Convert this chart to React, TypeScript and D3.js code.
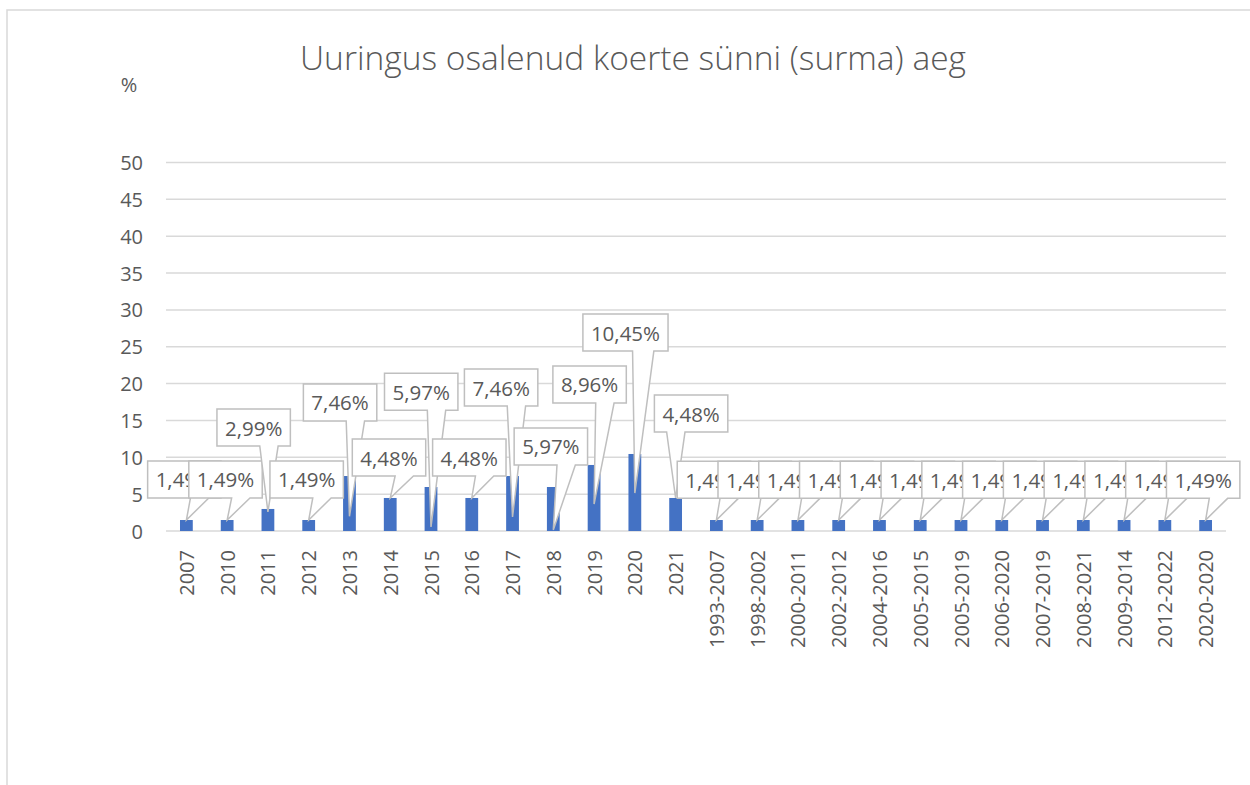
import React from "react";
import * as d3 from "d3";

// categories on the x axis
const categories = [
  "2007", "2010", "2011", "2012", "2013", "2014", "2015", "2016", "2017", "2018", "2019", "2020", "2021",
  "1993-2007", "1998-2002", "2000-2011", "2002-2012", "2004-2016", "2005-2015", "2005-2019",
  "2006-2020", "2007-2019", "2008-2021", "2009-2014", "2012-2022", "2020-2020",
];

// share of dogs, %
const values = [
  1.49, 1.49, 2.99, 1.49, 7.46, 4.48, 5.97, 4.48, 7.46, 5.97, 8.96, 10.45, 4.48,
  1.49, 1.49, 1.49, 1.49, 1.49, 1.49, 1.49, 1.49, 1.49, 1.49, 1.49, 1.49, 1.49,
];

const yTicks = [0, 5, 10, 15, 20, 25, 30, 35, 40, 45, 50];

// callout placement (value units for heights, category widths for the shift)
const calloutTop = [
  9.5, 9.5, 16.55, 9.5, 19.95, 12.48, 21.4, 12.48, 21.98, 13.98, 22.39, 29.44, 18.45,
  9.45, 9.45, 9.45, 9.45, 9.45, 9.45, 9.45, 9.45, 9.45, 9.45, 9.45, 9.45, 9.45,
];
const calloutShift = [
  -0.05, -0.04, -0.35, -0.05, -0.23, -0.03, -0.24, -0.06, -0.28, -0.06, -0.11, -0.23, 0.38,
  -0.06, -0.06, -0.06, -0.06, -0.06, -0.06, -0.06, -0.06, -0.06, -0.06, -0.06, -0.06, -0.06,
];
const calloutTip = [
  1.49, 1.49, 2.6, 1.49, 2.0, 4.48, 0.55, 4.48, 1.9, 0.15, 3.66, 5.15, 4.48,
  1.49, 1.49, 1.49, 1.49, 1.49, 1.49, 1.49, 1.49, 1.49, 1.49, 1.49, 1.49, 1.49,
];

const FONT = "'Open Sans', sans-serif";
const TEXT = "#595959";
const GRID = "#d9d9d9";
const BAR = "#4472c4";

const fmt = (v: number) => d3.format(".2f")(v).replace(".", ",") + "%";

let ctx: CanvasRenderingContext2D | null = null;
const measure = (s: string, size: number) => {
  if (!ctx) ctx = document.createElement("canvas").getContext("2d");
  if (!ctx) return s.length * size * 0.55;
  ctx.font = `${size}px ${FONT}`;
  return ctx.measureText(s).width;
};

// Excel-style rectangular callout with the wedge on the bottom edge
const calloutPath = (x: number, y: number, w: number, h: number, tx: number, ty: number) => {
  const right = tx > x + w / 2;
  const x1 = x + (w * (right ? 7 : 2)) / 12;
  const x2 = x + (w * (right ? 10 : 5)) / 12;
  return `M${x},${y}H${x + w}V${y + h}H${x2}L${tx},${ty}L${x1},${y + h}H${x}Z`;
};

export default function App() {
  const width = 1250;
  const height = 785;
  const margin = { top: 162.5, right: 24, bottom: 254, left: 166 };

  const xScale = d3.scaleBand<string>()
    .domain(categories)
    .range([margin.left, width - margin.right])
    .paddingInner(0)
    .paddingOuter(0);

  const yScale = d3.scaleLinear()
    .domain([0, 50])
    .range([height - margin.bottom, margin.top]);

  const bw = xScale.bandwidth();
  const barW = bw / (1 + 2.19);
  const cx = (c: string) => (xScale(c) as number) + bw / 2;

  const labelSize = 20.5;
  const boxH = 37;

  return (
    <div style={{ position: "absolute", left: 0, top: 0 }}>
      <svg width={width} height={height} style={{ display: "block", fontFamily: FONT }}>
        <rect x={0} y={0} width={width} height={height} fill="#fff" />
        <rect x={7} y={10} width={width + 20} height={height + 20} fill="none" stroke={GRID} strokeWidth={1.5} />

        <text x={633} y={70} textAnchor="middle" fontSize={33.5} fontWeight={300} fill={TEXT}>
          Uuringus osalenud koerte sünni (surma) aeg
        </text>
        <text x={129} y={84} textAnchor="middle" dominantBaseline="central" fontSize={20} fill={TEXT}>%</text>

        {/* gridlines and y labels */}
        {yTicks.map(t => (
          <g key={t}>
            <line x1={margin.left} x2={width - margin.right} y1={yScale(t)} y2={yScale(t)} stroke={GRID} strokeWidth={1.5} />
            <text x={143} y={yScale(t)} textAnchor="end" dominantBaseline="central" fontSize={20} fill={TEXT}>{t}</text>
          </g>
        ))}

        {/* bars */}
        {categories.map((c, i) => (
          <rect key={c} x={cx(c) - barW / 2} y={yScale(values[i])} width={barW}
            height={yScale(0) - yScale(values[i])} fill={BAR} />
        ))}

        {/* x labels */}
        {categories.map(c => (
          <text key={c} transform={`translate(${cx(c)},${yScale(0) + 19}) rotate(-90)`}
            textAnchor="end" dominantBaseline="central" fontSize={20} fill={TEXT}>{c}</text>
        ))}

        {/* data callouts */}
        {categories.map((c, i) => {
          const label = fmt(values[i]);
          const w = measure(label, labelSize) + 16;
          const bx = cx(c) + calloutShift[i] * bw - w / 2;
          const by = yScale(calloutTop[i]);
          const tx = cx(c);
          const ty = yScale(calloutTip[i]);
          return (
            <g key={c}>
              <path d={calloutPath(bx, by, w, boxH, tx, ty)} fill="#fff" stroke="#bfbfbf" strokeWidth={1.5} />
              <text x={bx + w / 2} y={by + boxH / 2} textAnchor="middle" dominantBaseline="central"
                fontSize={labelSize} fill={TEXT}>{label}</text>
            </g>
          );
        })}
      </svg>
    </div>
  );
}
